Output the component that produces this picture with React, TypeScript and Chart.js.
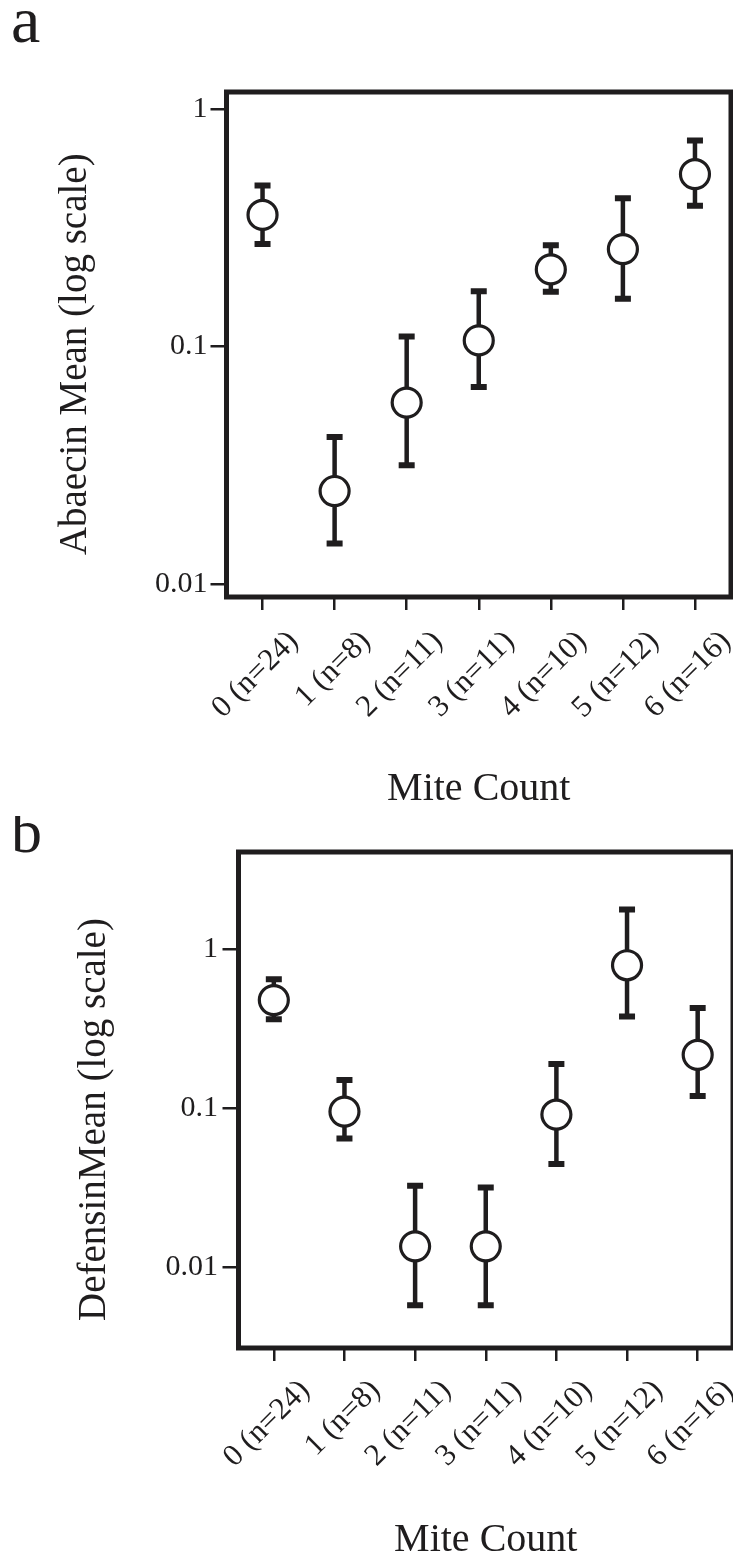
import React, { useEffect, useRef } from "react";
import Chart from "chart.js/auto";

// ---------- data ----------
const categories = ["0 (n=24)", "1 (n=8)", "2 (n=11)", "3 (n=11)", "4 (n=10)", "5 (n=12)", "6 (n=16)"];

const abaecinMean = [0.358, 0.0246, 0.058, 0.106, 0.211, 0.257, 0.532];
const abaecinUpper = [0.476, 0.0415, 0.11, 0.171, 0.267, 0.421, 0.738];
const abaecinLower = [0.27, 0.0148, 0.0316, 0.0675, 0.17, 0.159, 0.391];

const defensinMean = [0.477, 0.095, 0.0135, 0.0135, 0.091, 0.79, 0.216];
const defensinUpper = [0.644, 0.15, 0.0325, 0.0317, 0.189, 1.77, 0.426];
const defensinLower = [0.361, 0.0644, 0.00575, 0.00575, 0.0444, 0.376, 0.119];

const yTickValues = [0.01, 0.1, 1];

// ---------- style ----------
const INK = "#1f1d1e";
const FONT = "'Liberation Serif', 'Times New Roman', serif";

type Layout = {
  height: number;
  yMin: number;
  yMax: number;
  yAxisW: number;
  xAxisH: number;
  padRight: number;
  letterSize: number;
  letterLH: number;
  letterPt: number;
  letterPb: number;
  yTitlePt: number;
  xTitlePb: number;
  yTickPad: number;
  xTickPad: number;
};

function errorBarPlugin(upper: number[], lower: number[]) {
  return {
    id: "errorBars",
    beforeDatasetsDraw(chart: any) {
      const { ctx, scales } = chart;
      const xs = scales.x;
      const ys = scales.y;
      ctx.save();
      ctx.strokeStyle = INK;
      ctx.lineCap = "butt";
      for (let i = 0; i < upper.length; i++) {
        const x = xs.getPixelForValue(i);
        const yt = ys.getPixelForValue(upper[i]);
        const yb = ys.getPixelForValue(lower[i]);
        ctx.lineWidth = 4.5;
        ctx.beginPath();
        ctx.moveTo(x, yt);
        ctx.lineTo(x, yb);
        ctx.stroke();
        ctx.lineWidth = 6;
        ctx.beginPath();
        ctx.moveTo(x - 8, yt);
        ctx.lineTo(x + 8, yt);
        ctx.moveTo(x - 8, yb);
        ctx.lineTo(x + 8, yb);
        ctx.stroke();
      }
      ctx.restore();
    },
  };
}

const framePlugin = {
  id: "frameBox",
  beforeDatasetsDraw(chart: any) {
    const { ctx, chartArea } = chart;
    const { left, top, right, bottom } = chartArea;
    ctx.save();
    ctx.lineWidth = 5;
    ctx.strokeStyle = INK;
    ctx.strokeRect(left, top, right - left, bottom - top);
    ctx.restore();
  },
};

function Panel(props: {
  letter: string;
  yTitle: string;
  mean: number[];
  upper: number[];
  lower: number[];
  L: Layout;
}) {
  const ref = useRef<HTMLCanvasElement | null>(null);
  const { letter, yTitle, mean, upper, lower, L } = props;

  useEffect(() => {
    if (!ref.current) return;
    const chart = new Chart(ref.current, {
      type: "line",
      data: {
        labels: categories,
        datasets: [
          {
            data: mean,
            showLine: false,
            pointRadius: 14.5,
            pointHoverRadius: 14.5,
            pointBorderWidth: 3.2,
            pointBackgroundColor: "#ffffff",
            pointBorderColor: INK,
          },
        ],
      },
      options: {
        animation: false,
        responsive: false,
        devicePixelRatio: 1,
        events: [],
        layout: { autoPadding: false, padding: { left: 11, right: L.padRight, top: 0, bottom: 0 } },
        plugins: {
          legend: { display: false },
          tooltip: { enabled: false },
          title: {
            display: true,
            text: letter,
            align: "start",
            color: INK,
            font: { family: FONT, size: L.letterSize, weight: "normal", lineHeight: L.letterLH / L.letterSize },
            padding: { top: L.letterPt, bottom: L.letterPb },
          },
        },
        scales: {
          x: {
            type: "category",
            offset: true,
            grid: {
              display: true,
              drawOnChartArea: false,
              drawTicks: true,
              tickLength: 13,
              lineWidth: 2.5,
              color: INK,
              offset: false,
            },
            border: { display: false },
            ticks: {
              autoSkip: false,
              minRotation: 45,
              maxRotation: 45,
              padding: L.xTickPad,
              color: INK,
              font: { family: FONT, size: 31, lineHeight: 44 / 31 },
              callback: (_v: any, i: number) => ["", categories[i]],
            },
            title: {
              display: true,
              text: "Mite Count",
              color: INK,
              font: { family: FONT, size: 40, lineHeight: 1 },
              padding: { top: 0, bottom: L.xTitlePb },
            },
            afterFit: (s: any) => {
              s.height = L.xAxisH;
              s.paddingLeft = 0;
              s.paddingRight = 0;
            },
          },
          y: {
            type: "logarithmic",
            min: L.yMin,
            max: L.yMax,
            grid: {
              display: true,
              drawOnChartArea: false,
              drawTicks: true,
              tickLength: 16,
              lineWidth: 2.5,
              color: INK,
            },
            border: { display: false },
            afterBuildTicks: (s: any) => {
              s.ticks = yTickValues.map((v) => ({ value: v }));
            },
            ticks: {
              padding: L.yTickPad,
              color: INK,
              font: { family: FONT, size: 30 },
              callback: (v: any) => String(v),
            },
            title: {
              display: true,
              text: yTitle,
              color: INK,
              font: { family: FONT, size: 39, lineHeight: 1 },
              padding: { top: L.yTitlePt, bottom: 0 },
            },
            afterFit: (s: any) => {
              s.width = L.yAxisW;
              s.paddingTop = 0;
              s.paddingBottom = 0;
            },
          },
        },
      } as any,
      plugins: [framePlugin, errorBarPlugin(upper, lower)],
    });
    return () => chart.destroy();
  }, []);

  return (
    <canvas
      ref={ref}
      width={733}
      height={L.height}
      style={{ display: "block", width: 733, height: L.height }}
    />
  );
}

const layoutA: Layout = {
  height: 816,
  yMin: 0.0088,
  yMax: 1.18,
  yAxisW: 215.5,
  xAxisH: 219,
  padRight: 2,
  letterSize: 66,
  letterLH: 48,
  letterPt: 0.7,
  letterPb: 43.3,
  yTitlePt: 45.5,
  xTitlePb: 6.5,
  yTickPad: 3,
  xTickPad: -20,
};

const layoutB: Layout = {
  height: 742,
  yMin: 0.0031,
  yMax: 4.07,
  yAxisW: 227.5,
  xAxisH: 210,
  padRight: 0,
  letterSize: 62,
  letterLH: 40,
  letterPt: 0,
  letterPb: -4,
  yTitlePt: 64.5,
  xTitlePb: -2.5,
  yTickPad: 4.5,
  xTickPad: -22,
};

export default function App() {
  useEffect(() => {
    document.body.style.margin = "0";
    document.body.style.overflow = "hidden";
  }, []);
  return (
    <div style={{ width: 733, height: 1558, background: "#ffffff", overflow: "hidden" }}>
      <Panel
        letter="a"
        yTitle="Abaecin Mean (log scale)  "
        mean={abaecinMean}
        upper={abaecinUpper}
        lower={abaecinLower}
        L={layoutA}
      />
      <Panel
        letter="b"
        yTitle="DefensinMean (log scale)    "
        mean={defensinMean}
        upper={defensinUpper}
        lower={defensinLower}
        L={layoutB}
      />
    </div>
  );
}
